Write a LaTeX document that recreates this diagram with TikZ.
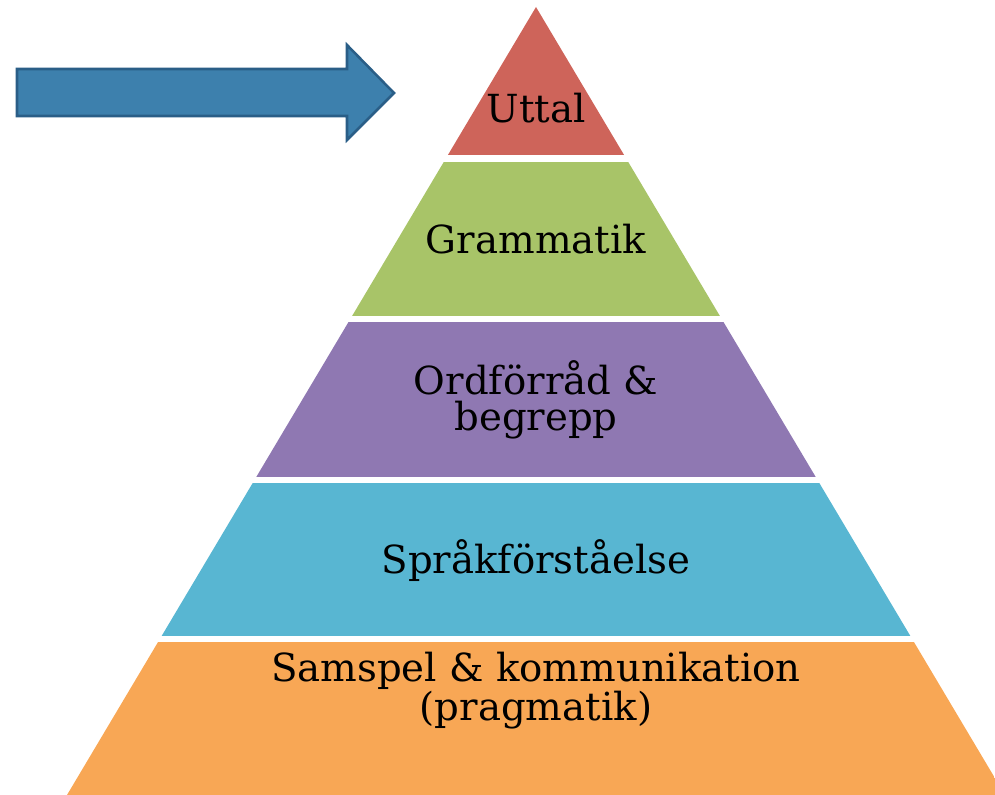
\documentclass[tikz,border=0pt]{standalone}
\usepackage{fontspec}
\setmainfont{DejaVu Serif}

\definecolor{uttalred}{RGB}{206,100,90}
\definecolor{grammgreen}{RGB}{168,196,104}
\definecolor{ordpurple}{RGB}{143,120,178}
\definecolor{forstblue}{RGB}{88,182,210}
\definecolor{samorange}{RGB}{248,167,85}
\definecolor{pilblue}{RGB}{61,128,173}
\definecolor{pilborder}{RGB}{42,94,135}

\begin{document}
\begin{tikzpicture}
  [x=0.025cm, y=-0.025cm,
    level/.style={font=\fontsize{27.5}{25.6}\selectfont, align=center, text=black, inner sep=0pt},
    pil/.style={draw=pilborder, fill=pilblue, line width=1.8pt, line join=miter},
  ]
  \useasboundingbox (0,0) rectangle (995,795);

  % pyramid bands
  \begin{scope}
    \clip (0,0) rectangle (995,795);
    \clip (536,7) -- (1005,795) -- (67,795) -- cycle;
    \fill[uttalred] (0,0) rectangle (995,155);
    \fill[grammgreen] (0,162) rectangle (995,316);
    \fill[ordpurple] (0,322) rectangle (995,477);
    \fill[forstblue] (0,483) rectangle (995,636);
    \fill[samorange] (0,642) rectangle (995,795);
  \end{scope}

  % labels
  \node[level, anchor=base] (uttal) at (536,123) {Uttal};
  \node[level, anchor=base] (grammatik) at (536,253) {Grammatik};
  \node[level] (ordforrad) at (536,400) {Ordförråd \&\\begrepp};
  \node[level, anchor=base] (sprak) at (536,573) {Språkförståelse};
  \node[level] (samspel) at (536,691) {Samspel \& kommunikation\\(pragmatik)};

  % arrow
  \draw[pil] (17,69) -- (347,69) -- (347,45) -- (394,93) -- (347,140)
    -- (347,116) -- (17,116) -- cycle;
\end{tikzpicture}
\end{document}
